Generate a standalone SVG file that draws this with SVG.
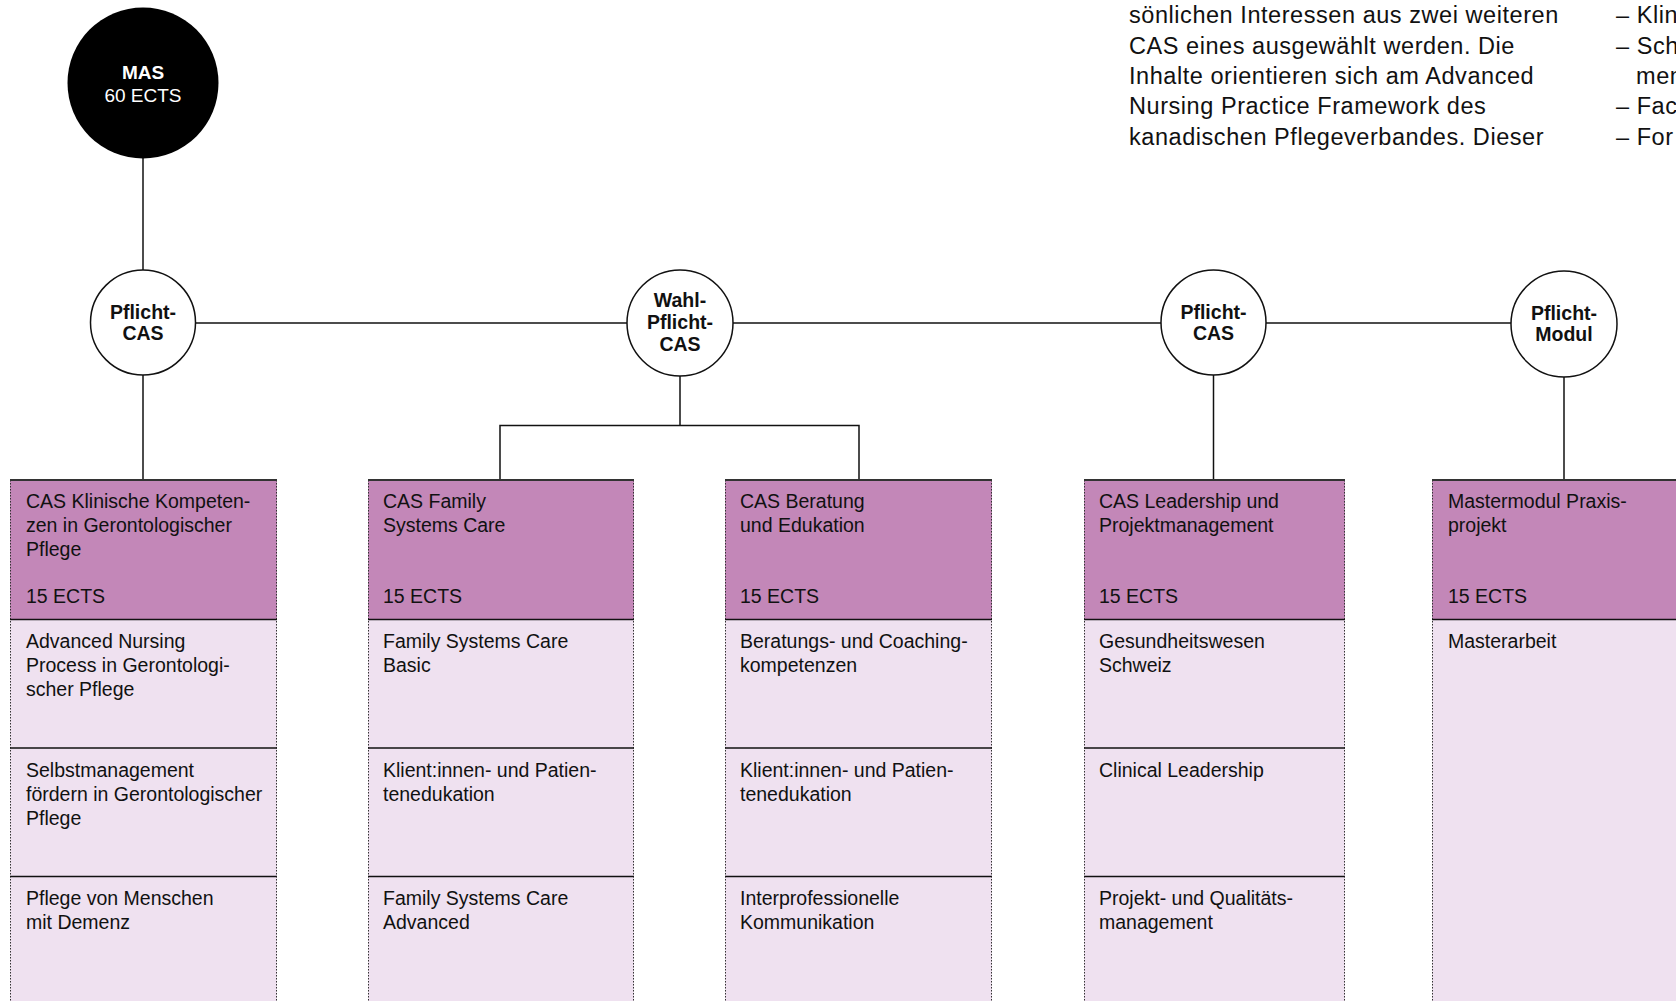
<svg xmlns="http://www.w3.org/2000/svg" width="1676" height="1001" viewBox="0 0 1676 1001">
<style>
.t{font-family:"Liberation Sans",Arial,sans-serif;fill:#111}
.bx{font-size:19.5px}
.body{font-size:23.5px;letter-spacing:0.55px}
.cb{font-family:"Liberation Sans",Arial,sans-serif;font-weight:bold;font-size:19.5px;fill:#111;text-anchor:middle}
.hd{fill:#c387b8}
.rw{fill:#efe1f0}
.dot{stroke:#333;stroke-width:1;stroke-dasharray:1.5 1.5;fill:none}
.top{stroke:#333;stroke-width:2}
.sep{stroke:#111;stroke-width:1.5}
.ln{stroke:#111;stroke-width:1.5;fill:none}
.oc{fill:#fff;stroke:#111;stroke-width:1.5}
</style>
<rect width="1676" height="1001" fill="#fff"/>

<g id="intro-text" class="t body">
<text x="1129" y="23">sönlichen Interessen aus zwei weiteren</text>
<text x="1129" y="54">CAS eines ausgewählt werden. Die</text>
<text x="1129" y="84">Inhalte orientieren sich am Advanced</text>
<text x="1129" y="114">Nursing Practice Framework des</text>
<text x="1129" y="145">kanadischen Pflegeverbandes. Dieser</text>
<text x="1616" y="23">– Klin</text>
<text x="1616" y="54">– Sch</text>
<text x="1636" y="84">men</text>
<text x="1616" y="114">– Fac</text>
<text x="1616" y="145">– For</text>
</g>

<g id="connectors" class="ln">
<line x1="143" y1="158" x2="143" y2="270"/>
<line x1="196" y1="323" x2="627" y2="323"/>
<line x1="733" y1="323" x2="1161" y2="323"/>
<line x1="1266" y1="323" x2="1511" y2="323"/>
<line x1="143" y1="375" x2="143" y2="480"/>
<line x1="680" y1="376" x2="680" y2="425.5"/>
<polyline points="500,480 500,425.5 859,425.5 859,480"/>
<line x1="1213.5" y1="375" x2="1213.5" y2="480"/>
<line x1="1564" y1="377" x2="1564" y2="480"/>
</g>

<g id="mas">
<circle cx="143" cy="83" r="75.5" fill="#000"/>
<text x="143" y="79" text-anchor="middle" font-family="Liberation Sans,Arial,sans-serif" font-weight="bold" font-size="19" fill="#fff">MAS</text>
<text x="143" y="102" text-anchor="middle" font-family="Liberation Sans,Arial,sans-serif" font-size="19" fill="#fff">60 ECTS</text>
</g>

<g id="pflicht-cas-1">
<circle class="oc" cx="143" cy="322.5" r="52.5"/>
<text class="cb" x="143" y="319">Pflicht-</text>
<text class="cb" x="143" y="340">CAS</text>
</g>

<g id="wahlpflicht-cas">
<circle class="oc" cx="680" cy="323" r="53"/>
<text class="cb" x="680" y="307">Wahl-</text>
<text class="cb" x="680" y="329">Pflicht-</text>
<text class="cb" x="680" y="351">CAS</text>
</g>

<g id="pflicht-cas-2">
<circle class="oc" cx="1213.5" cy="322.5" r="52.5"/>
<text class="cb" x="1213.5" y="319">Pflicht-</text>
<text class="cb" x="1213.5" y="340">CAS</text>
</g>

<g id="pflicht-modul">
<circle class="oc" cx="1564" cy="324" r="53"/>
<text class="cb" x="1564" y="320">Pflicht-</text>
<text class="cb" x="1564" y="341">Modul</text>
</g>

<g id="box-klinische">
<rect class="hd" x="10" y="480" width="267" height="139.5"/>
<rect class="rw" x="10" y="619.5" width="267" height="382"/>
<line class="dot" x1="10.5" y1="480" x2="10.5" y2="1001"/>
<line class="dot" x1="276.5" y1="480" x2="276.5" y2="1001"/>
<line class="top" x1="10" y1="480" x2="277" y2="480"/>
<line class="sep" x1="10" y1="619.5" x2="277" y2="619.5"/>
<line class="sep" x1="10" y1="748" x2="277" y2="748"/>
<line class="sep" x1="10" y1="876.5" x2="277" y2="876.5"/>
<g class="t bx">
<text x="26" y="508">CAS Klinische Kompeten-</text>
<text x="26" y="532">zen in Gerontologischer</text>
<text x="26" y="556">Pflege</text>
<text x="26" y="603">15 ECTS</text>
<text x="26" y="648">Advanced Nursing</text>
<text x="26" y="672">Process in Gerontologi-</text>
<text x="26" y="696">scher Pflege</text>
<text x="26" y="776.5">Selbstmanagement</text>
<text x="26" y="800.5">fördern in Gerontologischer</text>
<text x="26" y="824.5">Pflege</text>
<text x="26" y="905">Pflege von Menschen</text>
<text x="26" y="929">mit Demenz</text>
</g>
</g>

<g id="box-family">
<rect class="hd" x="368" y="480" width="266" height="139.5"/>
<rect class="rw" x="368" y="619.5" width="266" height="382"/>
<line class="dot" x1="368.5" y1="480" x2="368.5" y2="1001"/>
<line class="dot" x1="633.5" y1="480" x2="633.5" y2="1001"/>
<line class="top" x1="368" y1="480" x2="634" y2="480"/>
<line class="sep" x1="368" y1="619.5" x2="634" y2="619.5"/>
<line class="sep" x1="368" y1="748" x2="634" y2="748"/>
<line class="sep" x1="368" y1="876.5" x2="634" y2="876.5"/>
<g class="t bx">
<text x="383" y="508">CAS Family</text>
<text x="383" y="532">Systems Care</text>
<text x="383" y="603">15 ECTS</text>
<text x="383" y="648">Family Systems Care</text>
<text x="383" y="672">Basic</text>
<text x="383" y="776.5">Klient:innen- und Patien-</text>
<text x="383" y="800.5">tenedukation</text>
<text x="383" y="905">Family Systems Care</text>
<text x="383" y="929">Advanced</text>
</g>
</g>

<g id="box-beratung">
<rect class="hd" x="725" y="480" width="267" height="139.5"/>
<rect class="rw" x="725" y="619.5" width="267" height="382"/>
<line class="dot" x1="725.5" y1="480" x2="725.5" y2="1001"/>
<line class="dot" x1="991.5" y1="480" x2="991.5" y2="1001"/>
<line class="top" x1="725" y1="480" x2="992" y2="480"/>
<line class="sep" x1="725" y1="619.5" x2="992" y2="619.5"/>
<line class="sep" x1="725" y1="748" x2="992" y2="748"/>
<line class="sep" x1="725" y1="876.5" x2="992" y2="876.5"/>
<g class="t bx">
<text x="740" y="508">CAS Beratung</text>
<text x="740" y="532">und Edukation</text>
<text x="740" y="603">15 ECTS</text>
<text x="740" y="648">Beratungs- und Coaching-</text>
<text x="740" y="672">kompetenzen</text>
<text x="740" y="776.5">Klient:innen- und Patien-</text>
<text x="740" y="800.5">tenedukation</text>
<text x="740" y="905">Interprofessionelle</text>
<text x="740" y="929">Kommunikation</text>
</g>
</g>

<g id="box-leadership">
<rect class="hd" x="1084" y="480" width="261" height="139.5"/>
<rect class="rw" x="1084" y="619.5" width="261" height="382"/>
<line class="dot" x1="1084.5" y1="480" x2="1084.5" y2="1001"/>
<line class="dot" x1="1344.5" y1="480" x2="1344.5" y2="1001"/>
<line class="top" x1="1084" y1="480" x2="1345" y2="480"/>
<line class="sep" x1="1084" y1="619.5" x2="1345" y2="619.5"/>
<line class="sep" x1="1084" y1="748" x2="1345" y2="748"/>
<line class="sep" x1="1084" y1="876.5" x2="1345" y2="876.5"/>
<g class="t bx">
<text x="1099" y="508">CAS Leadership und</text>
<text x="1099" y="532">Projektmanagement</text>
<text x="1099" y="603">15 ECTS</text>
<text x="1099" y="648">Gesundheitswesen</text>
<text x="1099" y="672">Schweiz</text>
<text x="1099" y="776.5">Clinical Leadership</text>
<text x="1099" y="905">Projekt- und Qualitäts-</text>
<text x="1099" y="929">management</text>
</g>
</g>

<g id="box-mastermodul">
<rect class="hd" x="1432" y="480" width="244" height="139.5"/>
<rect class="rw" x="1432" y="619.5" width="244" height="382"/>
<line class="dot" x1="1432.5" y1="480" x2="1432.5" y2="1001"/>
<line class="top" x1="1432" y1="480" x2="1676" y2="480"/>
<line class="sep" x1="1432" y1="619.5" x2="1676" y2="619.5"/>
<g class="t bx">
<text x="1448" y="508">Mastermodul Praxis-</text>
<text x="1448" y="532">projekt</text>
<text x="1448" y="603">15 ECTS</text>
<text x="1448" y="648">Masterarbeit</text>
</g>
</g>
</svg>
